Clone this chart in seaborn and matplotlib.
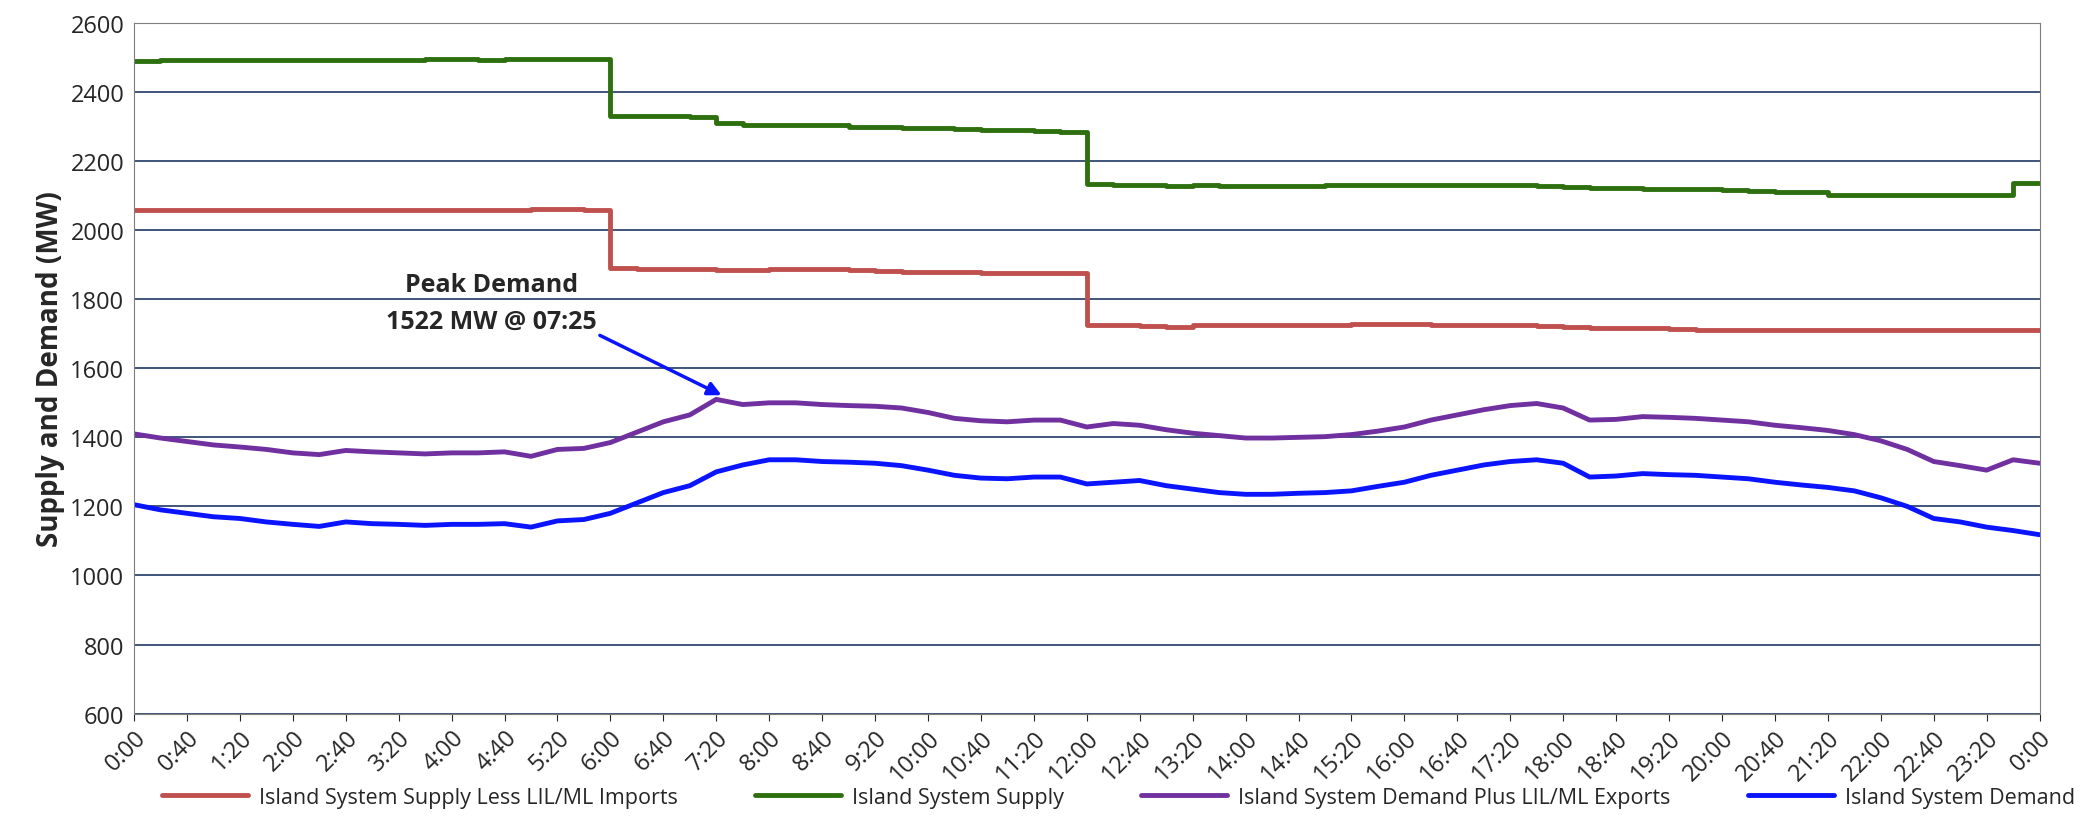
import numpy as np
import pandas as pd
import matplotlib.pyplot as plt
import seaborn as sns

# 20-minute samples, 0:00 .. 24:00
demand = [1205, 1190, 1180, 1170, 1165, 1155, 1148, 1142, 1155, 1150, 1148, 1145,
          1148, 1148, 1150, 1140, 1158, 1162, 1180, 1210, 1240, 1260, 1300, 1320,
          1335, 1335, 1330, 1328, 1325, 1318, 1305, 1290, 1282, 1280, 1285, 1285,
          1265, 1270, 1275, 1260, 1250, 1240, 1235, 1235, 1238, 1240, 1245, 1258,
          1270, 1290, 1305, 1320, 1330, 1335, 1325, 1285, 1288, 1295, 1292, 1290,
          1285, 1280, 1270, 1262, 1255, 1245, 1225, 1200, 1165, 1155, 1140, 1130, 1118]
demand_exports = [1410, 1398, 1388, 1378, 1372, 1365, 1355, 1350, 1362, 1358, 1355, 1352,
                  1355, 1355, 1358, 1345, 1365, 1368, 1385, 1415, 1445, 1465, 1510, 1495,
                  1500, 1500, 1495, 1492, 1490, 1485, 1472, 1455, 1448, 1445, 1450, 1450,
                  1430, 1440, 1435, 1422, 1412, 1405, 1398, 1398, 1400, 1402, 1408, 1418,
                  1430, 1450, 1465, 1480, 1492, 1498, 1485, 1450, 1452, 1460, 1458, 1455,
                  1450, 1445, 1435, 1428, 1420, 1408, 1390, 1365, 1330, 1318, 1305, 1335, 1325]
supply = [2490, 2492, 2493, 2493, 2493, 2494, 2494, 2494, 2493, 2494, 2493, 2495,
          2495, 2494, 2496, 2497, 2497, 2496, 2330, 2330, 2330, 2328, 2310, 2305,
          2306, 2306, 2304, 2300, 2298, 2296, 2295, 2292, 2290, 2289, 2287, 2285,
          2133, 2132, 2131, 2129, 2130, 2129, 2128, 2128, 2129, 2130, 2131, 2131,
          2132, 2131, 2131, 2130, 2130, 2128, 2126, 2122, 2122, 2120, 2119, 2118,
          2116, 2113, 2110, 2110, 2103, 2102, 2102, 2102, 2102, 2102, 2103, 2138, 2138]
supply_less_imports = [2057, 2058, 2058, 2058, 2058, 2058, 2058, 2058, 2058, 2058, 2058, 2058,
                       2058, 2058, 2058, 2060, 2060, 2059, 1890, 1888, 1888, 1887, 1885, 1885,
                       1888, 1888, 1887, 1884, 1882, 1880, 1880, 1879, 1877, 1876, 1875, 1875,
                       1725, 1724, 1722, 1720, 1725, 1724, 1725, 1724, 1724, 1726, 1727, 1727,
                       1727, 1726, 1726, 1725, 1724, 1722, 1720, 1718, 1718, 1716, 1714, 1712,
                       1710, 1710, 1710, 1710, 1711, 1712, 1712, 1711, 1711, 1711, 1710, 1712, 1712]

hours = np.arange(len(demand)) / 3.0
tick_hours = hours[::2]
tick_labels = [f"{int(h) % 24}:{int(round((h % 1) * 60)):02d}" for h in tick_hours]

df = pd.DataFrame({"t": hours, "d": demand, "de": demand_exports,
                   "s": supply, "sl": supply_less_imports})

sns.set_style("white")
plt.rcParams['font.family'] = ['Open Sans', 'DejaVu Sans']
fig, ax = plt.subplots(figsize=(20.94, 8.28), dpi=100)
fig.subplots_adjust(left=0.064, right=0.974, top=0.971, bottom=0.137)

sns.lineplot(data=df, x="t", y="sl", ax=ax, color="#c0504d", lw=3.5,
             drawstyle="steps-post", label="Island System Supply Less LIL/ML Imports")
sns.lineplot(data=df, x="t", y="s", ax=ax, color="#2e7010", lw=3.5,
             drawstyle="steps-post", label="Island System Supply")
sns.lineplot(data=df, x="t", y="de", ax=ax, color="#7030a0", lw=3.5,
             label="Island System Demand Plus LIL/ML Exports")
sns.lineplot(data=df, x="t", y="d", ax=ax, color="#0a14ff", lw=3.5,
             label="Island System Demand")

ax.set_xlim(0, 24)
ax.set_ylim(600, 2600)
ax.set_yticks(range(600, 2601, 200))
ax.set_xticks(tick_hours)
ax.set_xticklabels(tick_labels, rotation=45, ha="right", rotation_mode="anchor", fontsize=17)
ax.tick_params(axis="y", labelsize=17)
ax.tick_params(axis="x", length=5, direction="out", bottom=True)
ax.yaxis.grid(True, color="#1f3864", lw=1.2)
ax.set_xlabel("")
ax.set_ylabel("Supply and Demand (MW)", fontsize=20, fontweight="bold")
for sp in ax.spines.values():
    sp.set_color("#7f7f7f")

ax.annotate("Peak Demand\n1522 MW @ 07:25", xy=(7.4, 1522), xytext=(4.5, 1700),
            ha="center", va="bottom", fontsize=18, fontweight="bold", linespacing=1.6,
            arrowprops=dict(arrowstyle="-|>", color="#0a14ff", lw=2.5,
                            shrinkA=0, shrinkB=0, mutation_scale=20,
                            relpos=(1.0, 0.0)))

handles, labels = ax.get_legend_handles_labels()
ax.get_legend().remove()
fig.legend(handles, labels, loc="lower left", bbox_to_anchor=(0.068, 0.0), ncol=4,
           frameon=False, fontsize=15.5, handlelength=4, columnspacing=3.6,
           handletextpad=0.5)

fig.savefig("out.png", dpi=100, facecolor="white")
